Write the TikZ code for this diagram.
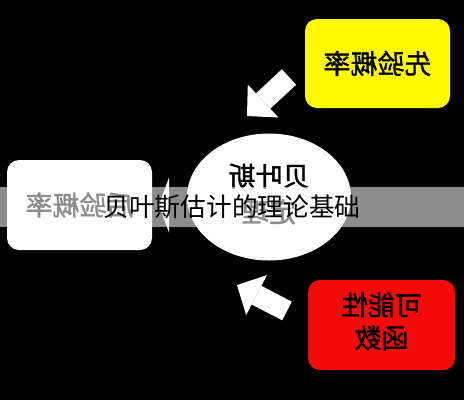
\documentclass[tikz,border=0pt]{standalone}
\usepackage{fontspec}
\usepackage{graphicx}
\usepackage{tikz}
\usetikzlibrary{shapes,arrows.meta,positioning}
\newfontfamily\cjk{Noto Sans CJK SC}
\newfontfamily\cjkheavy{Noto Sans CJK SC}[FakeBold=1.4]
\definecolor{lemon}{RGB}{255, 250, 0}
\definecolor{crimson}{RGB}{245, 10, 10}
\tikzstyle{card} = [rectangle, rounded corners=12pt, draw=none, minimum width=145pt, minimum height=89pt, inner sep=0pt, text=black, align=center, font=\cjkheavy\fontsize{27}{33}\selectfont]
\tikzstyle{prior} = [card, fill=lemon]
\tikzstyle{likelihood} = [card, fill=crimson, minimum width=147pt, minimum height=90pt]
\tikzstyle{posterior} = [card, fill=white, minimum height=90pt]
\tikzstyle{theorem} = [ellipse, fill=white, minimum width=164pt, minimum height=127pt, inner sep=0pt, text=black, font=\cjkheavy\fontsize{27}{36}\selectfont]
\tikzstyle{banner} = [rectangle, fill=white, fill opacity=0.55, text opacity=1, minimum width=464pt, minimum height=40pt, inner sep=0pt, text=black, font=\cjk\fontsize{25.7}{28}\selectfont]
\tikzstyle{bigarrow} = [draw=white, line width=21pt, -{Triangle[length=22pt, width=45pt, line width=0pt]}]

\begin{document}
\begin{tikzpicture}[x=1pt, y=-1pt]

% background =============================
\fill[black] (0,0) rectangle (464,400);

% boxes ==================================
\node[prior] (prior) at (377.5,63.5) {\reflectbox{先验概率}};
\node[likelihood] (likelihood) at (381.5,325) {\reflectbox{\begin{tabular}{@{}c@{}}可能性\\函数\end{tabular}}};
\node[posterior] (posterior) at (79.5,205) {\reflectbox{后验概率}};

% arrows
\coordinate (priortail) at (289,77);
\coordinate (priortip) at (247,116);
\coordinate (liketail) at (287,311);
\coordinate (liketip) at (237,285);
\coordinate (posttail) at (170,205);
\coordinate (posttip) at (159,205);
\draw[bigarrow] (priortail) -- (priortip);
\draw[bigarrow] (liketail) -- (liketip);
\draw[bigarrow, line width=0.5pt, -{Triangle[length=10pt, width=55pt, line width=0pt]}] (posttail) -- (posttip);

% theorem
\node[theorem] (bayes) at (269,197) {\reflectbox{\begin{tabular}{@{}c@{}}贝叶斯\\定理\end{tabular}}};

% caption band
\node[banner] (title) at (232,207) {贝叶斯估计的理论基础};

\end{tikzpicture}
\end{document}
